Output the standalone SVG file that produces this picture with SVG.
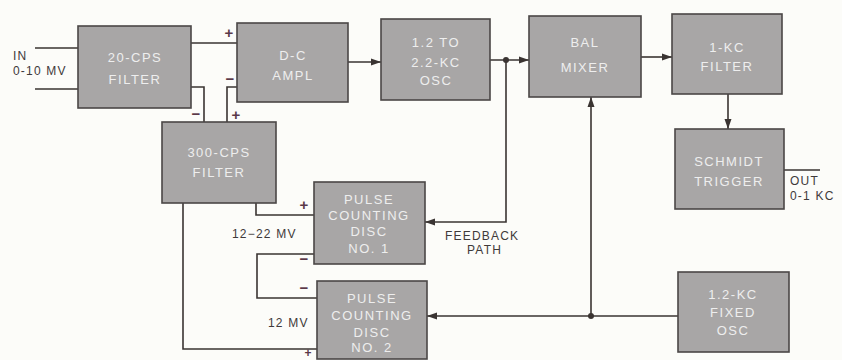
<svg xmlns="http://www.w3.org/2000/svg" width="842" height="360" viewBox="0 0 842 360">
<defs>
<marker id="ah" viewBox="0 0 10 8" refX="10" refY="4" markerWidth="10" markerHeight="8" markerUnits="userSpaceOnUse" orient="auto">
<path d="M0,0.5 L10,4 L0,7.5 Z" fill="#3a3432"/>
</marker>
<style>
.box{fill:#a8a6a6;stroke:#4a4646;stroke-width:1.6}
.bt{font-family:"Liberation Sans",Arial,sans-serif;font-size:13px;fill:#eeeeee;text-anchor:middle;letter-spacing:1.5px}
.ln{fill:none;stroke:#3a3432;stroke-width:1.6}
.lb{font-family:"Liberation Sans",Arial,sans-serif;font-size:12px;fill:#3f3a3a;letter-spacing:1.2px}
.sg{font-family:"Liberation Sans",Arial,sans-serif;font-size:15px;font-weight:bold;fill:#5a3848;text-anchor:middle}
.dot{fill:#3a3432}
</style>
</defs>
<rect width="842" height="360" fill="#fcfcf9"/>
<g id="connectors">
<path class="ln" d="M35,48 H78 M35,89 H78"/>
<path class="ln" d="M191,43 H237"/>
<path class="ln" d="M191,87 H204 V122"/>
<path class="ln" d="M237,87 H227 V122"/>
<path class="ln" d="M348,62 H381" marker-end="url(#ah)"/>
<path class="ln" d="M490,60 H529" marker-end="url(#ah)"/>
<path class="ln" d="M506,60 V222 H425" marker-end="url(#ah)"/>
<path class="ln" d="M641,57 H672" marker-end="url(#ah)"/>
<path class="ln" d="M728,94 V129" marker-end="url(#ah)"/>
<path class="ln" d="M784,170 H820"/>
<path class="ln" d="M678,316 H427" marker-end="url(#ah)"/>
<path class="ln" d="M591,316 V97" marker-end="url(#ah)"/>
<path class="ln" d="M256,203 V215 H314"/>
<path class="ln" d="M314,254 H257 V298 H317"/>
<path class="ln" d="M183,203 V349 H317"/>
<circle class="dot" cx="506" cy="60" r="3"/>
<circle class="dot" cx="591" cy="316" r="3"/>
<text class="sg" x="229" y="38">+</text>
<text class="sg" x="230" y="84">−</text>
<text class="sg" x="196" y="119">−</text>
<text class="sg" x="236" y="120">+</text>
<text class="sg" x="304" y="210">+</text>
<text class="sg" x="304" y="264">−</text>
<text class="sg" x="304" y="293">−</text>
<text class="sg" x="308" y="357" style="font-size:12px">+</text>
<text class="lb" x="13" y="60">IN</text>
<text class="lb" x="13" y="75">0-10 MV</text>
<text class="lb" x="232" y="238">12−22 MV</text>
<text class="lb" x="268" y="327">12 MV</text>
<text class="lb" x="445" y="240">FEEDBACK</text>
<text class="lb" x="467" y="254">PATH</text>
<text class="lb" x="790" y="185">OUT</text>
<text class="lb" x="790" y="200">0-1 KC</text>
</g>
<g id="filter20">
<rect class="box" x="78" y="26" width="113" height="82"/>
<text class="bt" x="135" y="62">20-CPS</text>
<text class="bt" x="135" y="84">FILTER</text>
</g>
<g id="dcampl">
<rect class="box" x="237" y="23" width="111" height="79"/>
<text class="bt" x="293" y="60">D-C</text>
<text class="bt" x="293" y="80">AMPL</text>
</g>
<g id="osc">
<rect class="box" x="381" y="19" width="109" height="81"/>
<text class="bt" x="436" y="47">1.2 TO</text>
<text class="bt" x="436" y="67">2.2-KC</text>
<text class="bt" x="436" y="85">OSC</text>
</g>
<g id="mixer">
<rect class="box" x="529" y="16" width="112" height="81"/>
<text class="bt" x="585" y="47">BAL</text>
<text class="bt" x="585" y="72">MIXER</text>
</g>
<g id="filter1kc">
<rect class="box" x="672" y="14" width="110" height="80"/>
<text class="bt" x="727" y="52">1-KC</text>
<text class="bt" x="727" y="71">FILTER</text>
</g>
<g id="schmidt">
<rect class="box" x="675" y="129" width="109" height="80"/>
<text class="bt" x="729" y="166">SCHMIDT</text>
<text class="bt" x="729" y="186">TRIGGER</text>
</g>
<g id="fixedosc">
<rect class="box" x="678" y="272" width="111" height="80"/>
<text class="bt" x="733" y="299">1.2-KC</text>
<text class="bt" x="733" y="317">FIXED</text>
<text class="bt" x="733" y="335">OSC</text>
</g>
<g id="filter300">
<rect class="box" x="162" y="122" width="114" height="81"/>
<text class="bt" x="219" y="157">300-CPS</text>
<text class="bt" x="219" y="177">FILTER</text>
</g>
<g id="disc1">
<rect class="box" x="314" y="182" width="111" height="82"/>
<text class="bt" x="369" y="204">PULSE</text>
<text class="bt" x="369" y="220">COUNTING</text>
<text class="bt" x="369" y="236">DISC</text>
<text class="bt" x="369" y="253">NO. 1</text>
</g>
<g id="disc2">
<rect class="box" x="317" y="281" width="110" height="78"/>
<text class="bt" x="372" y="303">PULSE</text>
<text class="bt" x="372" y="320">COUNTING</text>
<text class="bt" x="372" y="337">DISC</text>
<text class="bt" x="372" y="352">NO. 2</text>
</g>
</svg>
